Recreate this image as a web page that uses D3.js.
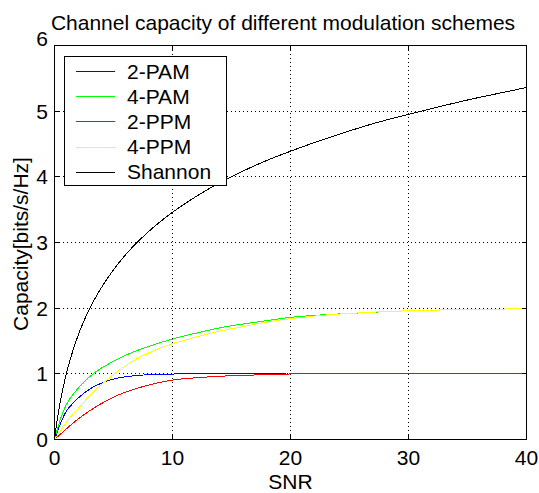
<!DOCTYPE html>
<html>
<head>
<meta charset="utf-8">
<script src="https://cdn.jsdelivr.net/npm/d3@7"></script>
<style>
  html, body { margin: 0; padding: 0; background: #fff; }
  svg { display: block; }
  text { font-family: "Liberation Sans", Arial, sans-serif; fill: #000; }
</style>
</head>
<body>
<svg id="chart" width="539" height="493"></svg>
<script>
// Capacity curves, SNR (linear) vs capacity in bits/s/Hz
const snrShannon = [0, 0.25, 0.5, 1, 1.5, 2, 3, 4, 5, 6, 7, 8, 10, 12, 14, 16, 18, 20, 22, 25, 28, 30, 32, 35, 38, 40];
const capShannon = [0, 0.32, 0.585, 1.0, 1.32, 1.585, 2.0, 2.32, 2.585, 2.81, 3.0, 3.17, 3.46, 3.70, 3.91, 4.09, 4.25, 4.39, 4.52, 4.70, 4.86, 4.95, 5.04, 5.17, 5.285, 5.36];

const snrPam2 = [0, 0.25, 0.5, 1, 1.5, 2, 3, 4, 5, 6, 7, 8, 10, 12, 15, 19.6];
const capPam2 = [0, 0.12, 0.24, 0.43, 0.54, 0.63, 0.77, 0.86, 0.92, 0.955, 0.975, 0.987, 0.997, 1.0, 1.0, 1.0];

const snrPam4 = [0, 0.25, 0.5, 1, 1.5, 2, 3, 4, 5, 6, 7, 8, 10, 12, 14, 16, 18, 20, 22, 25, 30, 35, 40];
const capPam4 = [0, 0.16, 0.31, 0.53, 0.67, 0.78, 0.96, 1.09, 1.19, 1.28, 1.355, 1.42, 1.53, 1.62, 1.70, 1.76, 1.81, 1.86, 1.89, 1.92, 1.96, 1.98, 1.99];

const snrPpm2 = [0, 0.5, 1, 1.5, 2, 3, 4, 5, 6, 7, 8, 10, 12, 14, 16, 18, 19.6, 20, 25, 30, 40];
const capPpm2 = [0, 0.08, 0.16, 0.24, 0.31, 0.44, 0.55, 0.645, 0.72, 0.78, 0.83, 0.905, 0.94, 0.963, 0.978, 0.986, 0.99, 1.0, 1.0, 1.0, 1.0];

const snrPpm4 = [0, 0.5, 1, 1.5, 2, 3, 4, 5, 6, 7, 8, 10, 12, 14, 16, 18, 20, 22, 25, 30, 35, 40];
const capPpm4 = [0, 0.13, 0.26, 0.37, 0.47, 0.67, 0.84, 0.99, 1.12, 1.23, 1.32, 1.46, 1.56, 1.65, 1.72, 1.79, 1.84, 1.88, 1.92, 1.96, 1.98, 1.99];

const seriesNames = ["2-PAM", "4-PAM", "2-PPM", "4-PPM", "Shannon"];
const seriesColors = ["#0000ff", "#00ff00", "#ff0000", "#ffff00", "#000000"];

const xTicks = [0, 10, 20, 30, 40];
const yTicks = [0, 1, 2, 3, 4, 5, 6];

const titleText = "Channel capacity of different modulation schemes";
const xLabel = "SNR";
const yLabel = "Capacity[bits/s/Hz]";

const series = [
  { name: seriesNames[0], color: seriesColors[0], x: snrPam2, y: capPam2 },
  { name: seriesNames[1], color: seriesColors[1], x: snrPam4, y: capPam4 },
  { name: seriesNames[2], color: seriesColors[2], x: snrPpm2, y: capPpm2 },
  { name: seriesNames[3], color: seriesColors[3], x: snrPpm4, y: capPpm4 },
  { name: seriesNames[4], color: seriesColors[4], x: snrShannon, y: capShannon }
];

const svg = d3.select("#chart");
const plotL = 54.5, plotR = 526.5, plotT = 45.5, plotB = 439.5;
const fontSize = 21;

const x = d3.scaleLinear().domain([0, 40]).range([plotL, plotR]);
const y = d3.scaleLinear().domain([0, 6]).range([plotB, plotT]);

// dotted grid
const grid = svg.append("g").attr("shape-rendering", "crispEdges");
grid.selectAll("line.gx").data(xTicks.slice(1, -1)).join("line")
  .attr("x1", d => x(d)).attr("x2", d => x(d))
  .attr("y1", plotT).attr("y2", plotB)
  .attr("stroke", "#000").attr("stroke-width", 1).attr("stroke-dasharray", "1,3");
grid.selectAll("line.gy").data(yTicks.slice(1, -1)).join("line")
  .attr("x1", plotL).attr("x2", plotR)
  .attr("y1", d => y(d)).attr("y2", d => y(d))
  .attr("stroke", "#000").attr("stroke-width", 1).attr("stroke-dasharray", "1,3");

// curves, drawn aliased and 1px wide
const line = d3.line().curve(d3.curveMonotoneX)
  .x(d => x(d[0])).y(d => y(d[1]));
svg.append("g").attr("shape-rendering", "crispEdges")
  .selectAll("path").data(series).join("path")
  .attr("d", s => line(s.x.map((v, i) => [v, s.y[i]])))
  .attr("fill", "none")
  .attr("stroke", s => s.color)
  .attr("stroke-width", 1);

// frame with inward ticks on all four sides
const frame = svg.append("g").attr("shape-rendering", "crispEdges");
frame.append("rect")
  .attr("x", plotL).attr("y", plotT)
  .attr("width", plotR - plotL).attr("height", plotB - plotT)
  .attr("fill", "none").attr("stroke", "#000").attr("stroke-width", 1);
const tickLen = 5;
xTicks.forEach(t => {
  frame.append("line").attr("x1", x(t)).attr("x2", x(t)).attr("y1", plotB).attr("y2", plotB - tickLen).attr("stroke", "#000");
  frame.append("line").attr("x1", x(t)).attr("x2", x(t)).attr("y1", plotT).attr("y2", plotT + tickLen).attr("stroke", "#000");
});
yTicks.forEach(t => {
  frame.append("line").attr("x1", plotL).attr("x2", plotL + tickLen).attr("y1", y(t)).attr("y2", y(t)).attr("stroke", "#000");
  frame.append("line").attr("x1", plotR).attr("x2", plotR - tickLen).attr("y1", y(t)).attr("y2", y(t)).attr("stroke", "#000");
});

// tick labels
svg.append("g").selectAll("text").data(xTicks).join("text")
  .attr("x", d => x(d)).attr("y", 465)
  .attr("text-anchor", "middle").attr("font-size", fontSize)
  .text(d => d);
svg.append("g").selectAll("text").data(yTicks).join("text")
  .attr("x", 48)
  // the top label sits a little higher, level with the frame
  .attr("y", d => y(d) + 7.5 - (d === 6 ? 7 : 0))
  .attr("text-anchor", "end").attr("font-size", fontSize)
  .text(d => d);

// axis labels and title
svg.append("text")
  .attr("x", (plotL + plotR) / 2).attr("y", 489)
  .attr("text-anchor", "middle").attr("font-size", fontSize)
  .text(xLabel);
svg.append("text")
  .attr("transform", "translate(28,244) rotate(-90)")
  .attr("text-anchor", "middle").attr("font-size", fontSize)
  .text(yLabel);
svg.append("text")
  .attr("x", 283).attr("y", 30)
  .attr("text-anchor", "middle").attr("font-size", fontSize)
  .text(titleText);

// legend
const lg = svg.append("g");
lg.append("rect")
  .attr("x", 64.5).attr("y", 56.5).attr("width", 162).attr("height", 129)
  .attr("fill", "#fff").attr("stroke", "#000").attr("stroke-width", 1)
  .attr("shape-rendering", "crispEdges");
const rowY = i => 71 + i * 25.2;
series.forEach((s, i) => {
  lg.append("line")
    .attr("x1", 76).attr("x2", 115)
    .attr("y1", Math.round(rowY(i)) + 0.5).attr("y2", Math.round(rowY(i)) + 0.5)
    .attr("stroke", s.color).attr("stroke-width", 1)
    .attr("shape-rendering", "crispEdges");
  lg.append("text")
    .attr("x", 127).attr("y", rowY(i) + 7.5)
    .attr("font-size", fontSize)
    .text(s.name);
});
</script>
</body>
</html>
